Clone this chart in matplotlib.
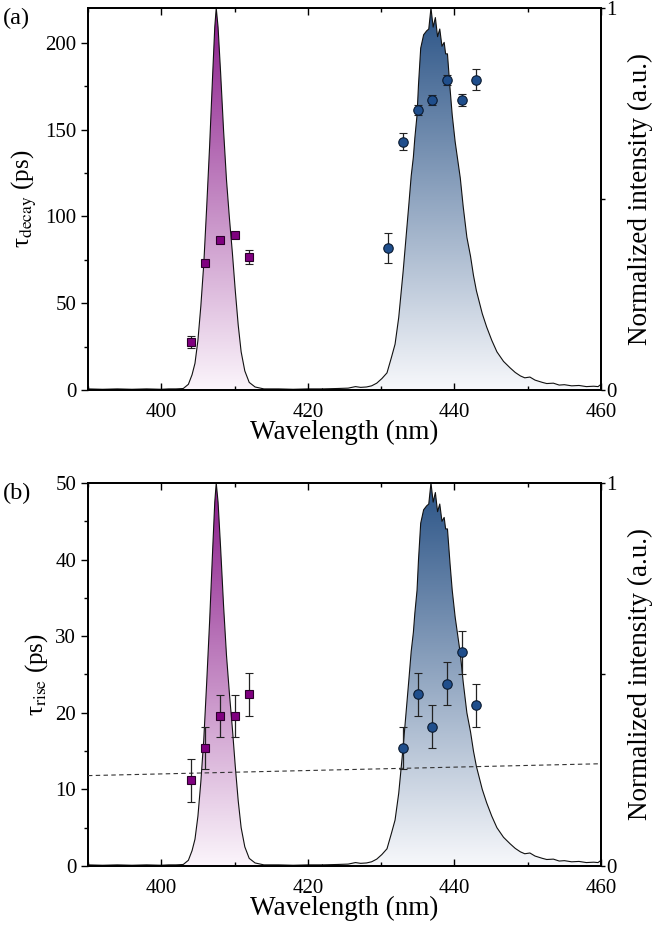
import numpy as np
import matplotlib
matplotlib.use("Agg")
import matplotlib.pyplot as plt
from matplotlib.colors import LinearSegmentedColormap
from matplotlib.patches import Polygon
from matplotlib.ticker import MultipleLocator, FixedLocator

plt.rcParams['font.family'] = ['Liberation Serif', 'DejaVu Serif']
plt.rcParams['mathtext.fontset'] = 'stix'

# emission spectra (normalized)
wl_p = [390, 392, 394, 396, 398, 400, 401, 402, 403, 403.7, 404.2, 404.6, 405.0,
        405.4, 405.8, 406.2, 406.6, 407.0, 407.3, 407.5, 407.75, 408.1, 408.5,
        408.9, 409.3, 409.7, 410.1, 410.5, 410.9, 411.4, 412.0, 412.8, 414, 416,
        418, 420, 422]
int_p = [0.003, 0.002, 0.003, 0.002, 0.003, 0.002, 0.003, 0.003, 0.004, 0.015,
         0.04, 0.07, 0.13, 0.22, 0.33, 0.48, 0.64, 0.82, 0.95, 1.0, 0.95, 0.83,
         0.68, 0.55, 0.45, 0.36, 0.26, 0.17, 0.10, 0.05, 0.02, 0.008, 0.003,
         0.003, 0.002, 0.003, 0.003]

wl_b = [422, 424, 425.5, 426.5, 427.2, 428, 428.7, 429.4, 430.1, 430.8, 431.4,
        431.9, 432.4, 432.7, 433.0, 433.4, 433.8, 434.1, 434.4, 434.6, 434.9,
        435.1, 435.4, 435.8, 436.2, 436.5, 436.8, 437.1, 437.4, 437.7, 438.0,
        438.3, 438.6, 438.8, 439.05, 439.4, 439.7, 440.1, 440.8, 441.2, 441.7,
        442.2, 442.6, 443.0, 443.4, 443.8, 444.4, 445.1, 445.8, 446.7, 447.6,
        448.3, 449.0, 449.6, 450.3, 451.0, 452.0, 452.6, 453.5, 454.3, 455.0,
        456.0, 457.0, 458.0, 459.0, 459.6, 460]
int_b = [0.003, 0.004, 0.005, 0.009, 0.007, 0.008, 0.011, 0.018, 0.03, 0.045,
         0.085, 0.12, 0.19, 0.25, 0.31, 0.40, 0.49, 0.56, 0.61, 0.66, 0.72,
         0.80, 0.895, 0.93, 0.94, 0.945, 1.0, 0.95, 0.975, 0.925, 0.945, 0.90,
         0.91, 0.88, 0.88, 0.79, 0.72, 0.65, 0.555, 0.48, 0.40, 0.35, 0.30,
         0.26, 0.23, 0.20, 0.165, 0.13, 0.10, 0.075, 0.058, 0.046, 0.037,
         0.032, 0.034, 0.026, 0.02, 0.017, 0.018, 0.013, 0.014, 0.011, 0.012,
         0.009, 0.010, 0.009, 0.015]

# (a) decay times
x_dec_p = [404, 406, 408, 410, 412]
y_dec_p = [27.7, 73, 86.5, 89.3, 76.7]
e_dec_p = [3.7, 1.5, 1.5, 1.5, 4.0]
x_dec_b = [431, 433, 435, 437, 439, 441, 443]
y_dec_b = [81.8, 143, 161.4, 167, 178.7, 167, 178.7]
e_dec_b = [8.6, 5.0, 3.0, 3.0, 3.0, 3.5, 6.0]

# (b) rise times
x_rise_p = [404, 406, 408, 410, 412]
y_rise_p = [11.2, 15.4, 19.6, 19.6, 22.4]
e_rise_p = [2.8, 2.8, 2.75, 2.75, 2.8]
x_rise_b = [433, 435, 437, 439, 441, 443]
y_rise_b = [15.4, 22.4, 18.2, 23.8, 27.9, 21.0]
e_rise_b = [2.8, 2.8, 2.8, 2.8, 2.8, 2.8]

# dashed guide line in (b)
x_dash = [390, 460]
y_dash = [11.8, 13.35]

purple = '#800080'
blue = '#1f4e8c'
cmap_p = LinearSegmentedColormap.from_list('p', ['#fbf5fb', '#8a1a8a'])
cmap_b = LinearSegmentedColormap.from_list('b', ['#f7f8fb', '#2a5386'])


def spectrum(ax2, wl, inten, cmap):
    verts = list(zip(wl, inten)) + [(wl[-1], 0), (wl[0], 0)]
    poly = Polygon(verts, closed=True, facecolor='none', edgecolor='none')
    ax2.add_patch(poly)
    grad = np.linspace(0, 1, 256).reshape(-1, 1)
    im = ax2.imshow(grad, extent=[390, 460, 0, 1], origin='lower', aspect='auto',
                    cmap=cmap, zorder=1)
    im.set_clip_path(poly)
    ax2.plot(wl, inten, color='#111111', lw=0.8, zorder=2)


def panel(rect, ylim, ymaj, ymin, ylabel, tag):
    ax = fig.add_axes(rect)
    ax2 = ax.twinx()
    ax.set_zorder(ax2.get_zorder() + 1)
    ax.patch.set_visible(False)
    spectrum(ax2, wl_p, int_p, cmap_p)
    spectrum(ax2, wl_b, int_b, cmap_b)
    ax.set_xlim(390, 460)
    ax.set_ylim(*ylim)
    ax2.set_ylim(0, 1)
    ax2.set_xlim(390, 460)
    ax.xaxis.set_major_locator(MultipleLocator(20))
    ax.xaxis.set_minor_locator(MultipleLocator(10))
    ax.yaxis.set_major_locator(MultipleLocator(ymaj))
    ax.yaxis.set_minor_locator(MultipleLocator(ymin))
    ax2.yaxis.set_major_locator(FixedLocator([0, 1]))
    ax2.yaxis.set_minor_locator(FixedLocator([0.5]))
    ax2.set_yticklabels(['0', '1'])
    ax.tick_params(axis='x', which='both', direction='in', top=True, labelsize=15, pad=9)
    ax.tick_params(axis='x', which='major', length=5, width=1)
    ax.tick_params(axis='x', which='minor', length=3, width=1)
    ax.tick_params(axis='y', which='major', direction='out', length=5, width=1, labelsize=15)
    ax.tick_params(axis='y', which='minor', direction='out', length=3, width=1)
    ax2.tick_params(axis='y', which='major', direction='out', length=3, width=1,
                    labelsize=15, pad=1)
    ax2.tick_params(axis='y', which='minor', direction='out', length=3, width=1)
    for s in ax.spines.values():
        s.set_linewidth(1.3)
    for s in ax2.spines.values():
        s.set_linewidth(1.3)
    ax.set_xlabel('Wavelength (nm)', fontsize=19.5, labelpad=-1)
    ax.set_ylabel(ylabel, fontsize=18, labelpad=4)
    ax2.set_ylabel('Normalized intensity (a.u.)', fontsize=19.5, labelpad=8)
    ax.text(-0.165, 1.0, tag, transform=ax.transAxes, fontsize=17.5, va='top')
    return ax


fig = plt.figure(figsize=(6.6, 9.32), dpi=100)

ax_a = panel([0.1333, 0.5815, 0.7773, 0.4099], (0, 220), 50, 25,
             'τ$_{\\mathrm{decay}}$ (ps)', '(a)')
ax_a.errorbar(x_dec_p, y_dec_p, yerr=e_dec_p, fmt='s', ms=6.3, mfc=purple, mec='#2a002a',
              mew=0.8, ecolor='#222222', elinewidth=0.9, capsize=3, capthick=0.9, zorder=5)
ax_a.errorbar(x_dec_b, y_dec_b, yerr=e_dec_b, fmt='o', ms=6.8, mfc=blue, mec='#0a1a30',
              mew=0.8, ecolor='#222222', elinewidth=0.9, capsize=3, capthick=0.9, zorder=5)

ax_b = panel([0.1333, 0.0708, 0.7773, 0.411], (0, 50), 10, 5,
             'τ$_{\\mathrm{rise}}$ (ps)', '(b)')
ax_b.plot(x_dash, y_dash, ls='--', color='#333333', lw=0.8, dashes=(4, 3), zorder=4)
ax_b.errorbar(x_rise_p, y_rise_p, yerr=e_rise_p, fmt='s', ms=6.3, mfc=purple, mec='#2a002a',
              mew=0.8, ecolor='#222222', elinewidth=0.9, capsize=3, capthick=0.9, zorder=5)
ax_b.errorbar(x_rise_b, y_rise_b, yerr=e_rise_b, fmt='o', ms=6.8, mfc=blue, mec='#0a1a30',
              mew=0.8, ecolor='#222222', elinewidth=0.9, capsize=3, capthick=0.9, zorder=5)

fig.savefig('out.png', dpi=100)
